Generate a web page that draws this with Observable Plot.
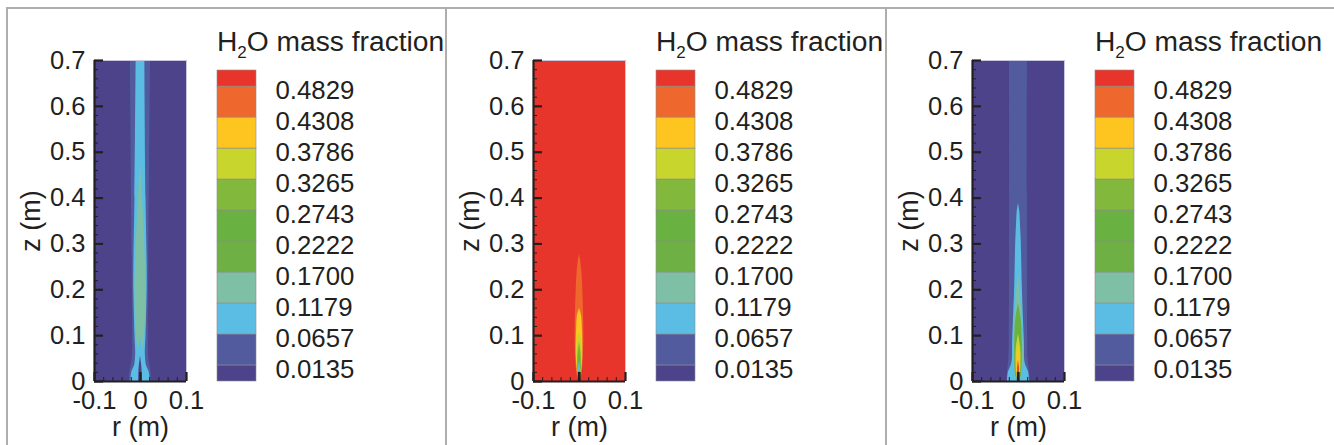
<!DOCTYPE html>
<html><head><meta charset="utf-8">
<script src="https://cdn.jsdelivr.net/npm/d3@7"></script>
<script src="https://cdn.jsdelivr.net/npm/@observablehq/plot@0.6"></script>
<style>
html,body{margin:0;padding:0;background:#fff;}
#root{position:relative;width:1334px;height:445px;overflow:hidden;font-family:"Liberation Sans",Arial,sans-serif;}
#root svg{position:absolute;top:0;background:transparent;overflow:visible;}
.sep{position:absolute;top:7px;bottom:0;width:1.5px;background:#b0aeaa;}
.top{position:absolute;top:7px;left:6px;right:0;height:1.5px;background:#b0aeaa;}
.hdr{position:absolute;top:25px;font-size:28.2px;line-height:32px;color:#231f20;white-space:nowrap;}
.hdr sub{font-size:17px;line-height:0;vertical-align:-7px;}
</style></head><body><div id="root"></div>
<script>
const levelValues=[0.0135,0.0657,0.1179,0.1700,0.2222,0.2743,0.3265,0.3786,0.4308,0.4829];
const levelLabels=["0.0135","0.0657","0.1179","0.1700","0.2222","0.2743","0.3265","0.3786","0.4308","0.4829"];
const bandEdges=[-0.0135,0.0135,0.0657,0.1179,0.17,0.2222,0.2743,0.3265,0.3786,0.4308,0.4829,0.51];
const bandColors=["#4c438a","#515b9d","#5bbde4","#7dc0a5","#6fb044","#69b140","#82b83c","#c8d52d","#fec520","#ee672d","#e7352b"];
const C={dark:"#4c438a",blue:"#515b9d",cyan:"#5bbde4",teal:"#7dc0a5",green:"#69b140",lime:"#82b83c",ygreen:"#c8d52d",yellow:"#fec520",orange:"#ee672d",red:"#e7352b",black:"#231f20"};

const leftLayers=[
 {c:C.blue,z:[0,0.02,0.05,0.1,0.25,0.7],r:[0.024,0.023,0.018,0.017,0.018,0.022]},
 {c:C.cyan,z:[0,0.02,0.035,0.06,0.1,0.2,0.25,0.4,0.7],r:[0.021,0.019,0.013,0.0105,0.012,0.0145,0.0145,0.012,0.0095]},
 {c:C.teal,z:[0.065,0.1,0.2,0.25,0.35,0.478],r:[0.004,0.009,0.012,0.011,0.007,0]},
 {c:C.cyan,z:[0,0.03,0.06,0.1],r:[0.009,0.007,0.005,0]},
 {c:C.dark,z:[0,0.03,0.055],r:[0.004,0.003,0]}
];
const midLayers=[
 {c:C.orange,z:[0,0.02,0.06,0.1,0.159,0.205,0.235,0.264,0.277],r:[0.002,0.006,0.0085,0.0095,0.0085,0.007,0.0055,0.0025,0]},
 {c:C.yellow,z:[0,0.017,0.053,0.111,0.144,0.159],r:[0.0015,0.004,0.007,0.0065,0.0044,0]},
 {c:C.ygreen,z:[0,0.017,0.053,0.09,0.108],r:[0.001,0.003,0.0058,0.0045,0]},
 {c:C.lime,z:[0.005,0.03,0.06,0.086],r:[0.001,0.0038,0.0036,0]},
 {c:C.green,z:[0.01,0.035,0.07],r:[0.001,0.0032,0]},
 {c:C.cyan,z:[0.012,0.03,0.046],r:[0.002,0.002,0]},
 {c:C.black,z:[0,0.02],r:[0.0028,0.0028]}
];
const rightLayers=[
 {c:C.blue,z:[0,0.02,0.05,0.1,0.7],r:[0.025,0.024,0.021,0.02,0.0196]},
 {c:C.cyan,z:[0,0.02,0.04,0.09,0.199,0.271,0.31,0.344,0.37,0.388],r:[0.024,0.022,0.0145,0.0127,0.0085,0.0068,0.0058,0.0042,0.0028,0]},
 {c:C.teal,z:[0.01,0.04,0.09,0.17,0.235],r:[0.0065,0.0105,0.01,0.0058,0]},
 {c:C.green,z:[0.01,0.04,0.09,0.13,0.17],r:[0.006,0.008,0.008,0.0065,0]},
 {c:C.ygreen,z:[0.01,0.04,0.07,0.104],r:[0.004,0.0055,0.005,0]},
 {c:C.yellow,z:[0.01,0.04,0.06,0.079],r:[0.003,0.004,0.003,0]},
 {c:C.red,z:[0.015,0.03,0.046],r:[0.0018,0.0018,0]},
 {c:C.black,z:[0,0.02],r:[0.0025,0.0025]}
];
const panels=[
 {left:0,bg:C.dark,layers:leftLayers},
 {left:439,bg:C.red,layers:midLayers},
 {left:878,bg:C.dark,layers:rightLayers}
];
const xMajor=[-0.1,0,0.1];
const xMinor=[-0.08,-0.06,-0.04,-0.02,0.02,0.04,0.06,0.08];
const yMajor=[0,0.1,0.2,0.3,0.4,0.5,0.6,0.7];
const yMinor=[0.02,0.04,0.06,0.08,0.12,0.14,0.16,0.18,0.22,0.24,0.26,0.28,0.32,0.34,0.36,0.38,0.42,0.44,0.46,0.48,0.52,0.54,0.56,0.58,0.62,0.64,0.66,0.68];
const ink="#231f20";
const root=document.getElementById("root");

function chart(p){
 const areas=p.layers.map(l=>{
  const rows=l.z.map((z,i)=>({z,r:l.r[i]}));
  return Plot.areaX(rows,{y:"z",x1:d=>-d.r,x2:d=>d.r,fill:l.c,curve:"catmull-rom"});
 });
 return Plot.plot({
  width:440,height:445,marginLeft:94,marginRight:254,marginTop:60,marginBottom:64,
  style:{background:"transparent",fontFamily:'"Liberation Sans",Arial,sans-serif',left:p.left+"px"},
  x:{domain:[-0.1,0.1],axis:null},
  y:{domain:[0,0.7],axis:null},
  marks:[
   Plot.rect([0],{x1:-0.1,x2:0.1,y1:0,y2:0.7,fill:p.bg}),
   ...areas,
   Plot.ruleX([0.1],{stroke:"#c9c7de",strokeWidth:1}),
   Plot.ruleY([0.7],{stroke:"#c9c7de",strokeWidth:1}),
   Plot.axisX({ticks:xMinor,anchor:"bottom",tickSize:-4,tickPadding:0,label:null,tickFormat:()=>"",stroke:ink,strokeWidth:1}),
   Plot.axisX({ticks:xMajor,anchor:"bottom",tickSize:-9,tickPadding:18,label:null,tickFormat:d=>d===0?"0":String(d),fontSize:25.5,fill:ink,stroke:ink,strokeWidth:2.2}),
   Plot.axisY({ticks:yMinor,anchor:"left",tickSize:-4,tickPadding:0,label:null,tickFormat:()=>"",stroke:ink,strokeWidth:1}),
   Plot.axisY({ticks:yMajor,anchor:"left",tickSize:-9,tickPadding:18,label:null,tickFormat:d=>d===0?"0":String(d),fontSize:25.5,fill:ink,stroke:ink,strokeWidth:2.2}),
   Plot.ruleX([-0.1],{stroke:ink,strokeWidth:2.2}),
   Plot.ruleY([0],{stroke:ink,strokeWidth:2.2}),
   Plot.text(["r (m)"],{x:0,y:0,text:d=>d,dy:46,fontSize:27,fill:ink}),
   Plot.text(["z (m)"],{x:-0.1,y:0.35,text:d=>d,dx:-63,rotate:-90,fontSize:27,fill:ink})
  ]
 });
}
function legend(p){
 const rows=bandColors.map((c,i)=>({c,lo:bandEdges[i],hi:bandEdges[i+1]}));
 const labels=levelValues.map((v,i)=>({v,t:levelLabels[i]}));
 return Plot.plot({
  width:440,height:445,marginLeft:217,marginRight:184,marginTop:70,marginBottom:64,
  style:{background:"transparent",fontFamily:'"Liberation Sans",Arial,sans-serif',left:p.left+"px"},
  x:{domain:[0,1],axis:null},
  y:{domain:[-0.0135,0.51],axis:null},
  marks:[
   Plot.rectY(rows,{x1:0,x2:1,y1:"lo",y2:"hi",fill:"c",stroke:"#8c8c8c",strokeWidth:0.6}),
   Plot.text(labels,{x:1,y:"v",text:"t",dx:19,dy:4,textAnchor:"start",fontSize:25.8,fill:ink})
  ]
 });
}
panels.forEach(p=>{
 root.appendChild(chart(p));
 root.appendChild(legend(p));
 const h=document.createElement("div");
 h.className="hdr";h.style.left=(p.left+217)+"px";
 h.innerHTML="H<sub>2</sub>O mass fraction";
 root.appendChild(h);
});
[6,445,885].forEach(x=>{const s=document.createElement("div");s.className="sep";s.style.left=x+"px";root.appendChild(s);});
const t=document.createElement("div");t.className="top";root.appendChild(t);
</script></body></html>
